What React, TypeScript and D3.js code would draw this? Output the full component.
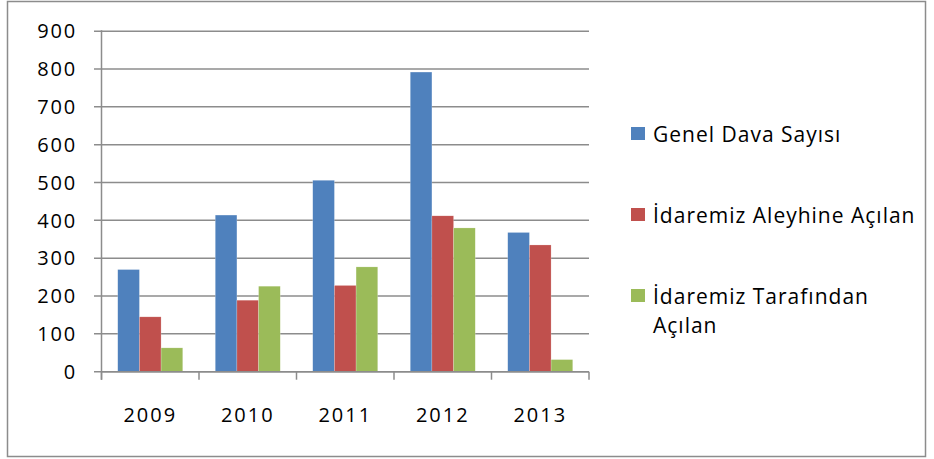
import React from "react";
import * as d3 from "d3";

const years = ["2009", "2010", "2011", "2012", "2013"];
const seriesNames = ["Genel Dava Sayısı", "İdaremiz Aleyhine Açılan", "İdaremiz Tarafından Açılan"];
const genel = [270, 414, 506, 792, 368];
const aleyhine = [145, 189, 228, 412, 335];
const tarafindan = [63, 226, 277, 380, 32];
const yTicks = [0, 100, 200, 300, 400, 500, 600, 700, 800, 900];
const colors = ["#4F81BD", "#C0504D", "#9BBB59"];

const W = 934;
const H = 459;
const left = 101.5;
const right = 589;
const top = 31.2;
const bottom = 371.7;
const font = "'Open Sans', 'DejaVu Sans', sans-serif";

export default function App() {
  const x = d3.scaleBand().domain(years).range([left, right]).paddingInner(1.5 / 4.5).paddingOuter(0.75 / 4.5);
  const y = d3.scaleLinear().domain([0, 900]).range([bottom, top]);
  const xInner = d3.scaleBand().domain(["0", "1", "2"]).range([0, x.bandwidth()]);
  const series = [genel, aleyhine, tarafindan];
  const step = (right - left) / years.length;
  const grid = "#8c8c8c";

  return (
    <svg width={W} height={H} style={{ position: "absolute", left: 0, top: 0, background: "#fff" }}>
      <rect x={7.5} y={1.5} width={918} height={455} fill="#fff" stroke="#8c8c8c" strokeWidth={1.5} />
      {yTicks.map((t) => (
        <g key={t}>
          <line x1={94} x2={right} y1={y(t)} y2={y(t)} stroke={grid} strokeWidth={1.5} />
          <text x={77} y={y(t)} dy="0.36em" textAnchor="end" fontFamily={font} fontSize={20} letterSpacing={1.8} fill="#000">
            {t}
          </text>
        </g>
      ))}
      {series.map((vals, si) =>
        vals.map((v, i) => (
          <rect
            key={si + "-" + i}
            x={(x(years[i]) as number) + (xInner(String(si)) as number)}
            y={y(v)}
            width={xInner.bandwidth()}
            height={bottom - y(v)}
            fill={colors[si]}
            stroke="#fff"
            strokeOpacity={0.4}
            strokeWidth={0.5}
          />
        ))
      )}
      <line x1={left} x2={left} y1={top - 1} y2={bottom + 8} stroke={grid} strokeWidth={1.5} />
      <line x1={left} x2={right} y1={bottom} y2={bottom} stroke={grid} strokeWidth={1.5} />
      {d3.range(years.length + 1).map((k) => (
        <line key={k} x1={left + k * step} x2={left + k * step} y1={bottom} y2={bottom + 8} stroke={grid} strokeWidth={1.5} />
      ))}
      {years.map((yr) => (
        <text key={yr} x={(x(yr) as number) + x.bandwidth() / 2} y={415} dy="0.36em" textAnchor="middle" fontFamily={font} fontSize={20} letterSpacing={2} fill="#000">
          {yr}
        </text>
      ))}
      {seriesNames.map((name, i) => {
        const ly = [134, 215, 296][i];
        return (
          <g key={name}>
            <rect x={631} y={ly - 7} width={14} height={13} fill={colors[i]} />
            <text x={653} y={ly} dy="0.36em" fontFamily={font} fontSize={21} letterSpacing={1} fill="#000">
              {i === 2 ? "İdaremiz Tarafından" : name}
            </text>
            {i === 2 && (
              <text x={653} y={ly + 29} dy="0.36em" fontFamily={font} fontSize={21} letterSpacing={1} fill="#000">
                Açılan
              </text>
            )}
          </g>
        );
      })}
    </svg>
  );
}
